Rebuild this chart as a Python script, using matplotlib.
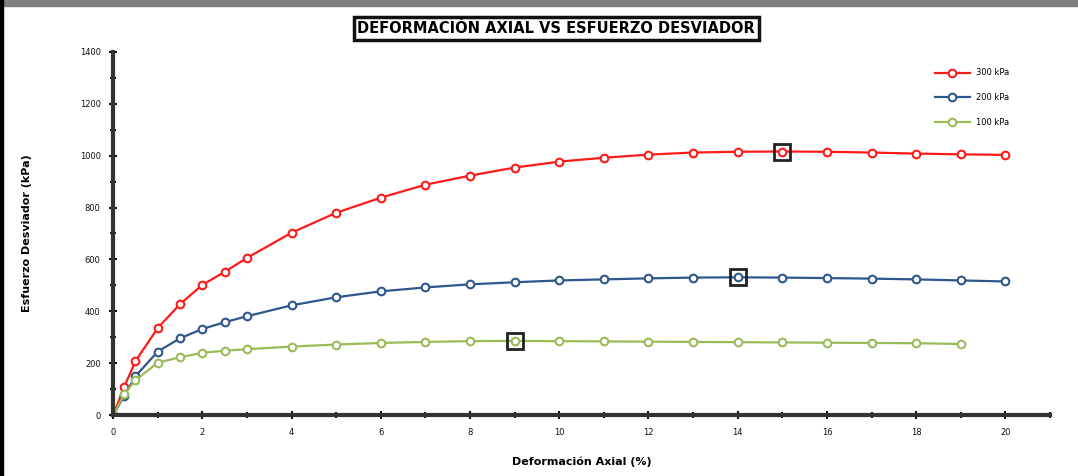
import numpy as np
import matplotlib.pyplot as plt
from matplotlib.ticker import MultipleLocator
from matplotlib.patches import Rectangle

# deformacion axial (%) y esfuerzo desviador (kPa) para cada presion de confinamiento
def_300 = [0, 0.25, 0.5, 1, 1.5, 2, 2.5, 3, 4, 5, 6, 7, 8, 9, 10, 11, 12, 13, 14, 15, 16, 17, 18, 19, 20]
esf_300 = [0, 110, 208, 336, 428, 502, 552, 606, 703, 780, 838, 888, 923, 954, 977, 992, 1004, 1012, 1015, 1016, 1015, 1012, 1008, 1005, 1003]

def_200 = [0, 0.25, 0.5, 1, 1.5, 2, 2.5, 3, 4, 5, 6, 7, 8, 9, 10, 11, 12, 13, 14, 15, 16, 17, 18, 19, 20]
esf_200 = [0, 75, 150, 245, 296, 332, 358, 381, 423, 454, 477, 492, 504, 512, 519, 523, 527, 530, 531, 530, 528, 526, 523, 519, 515]

def_100 = [0, 0.25, 0.5, 1, 1.5, 2, 2.5, 3, 4, 5, 6, 7, 8, 9, 10, 11, 12, 13, 14, 15, 16, 17, 18, 19]
esf_100 = [0, 80, 135, 202, 223, 240, 248, 254, 264, 272, 278, 282, 285, 286, 285, 284, 283, 282, 281, 280, 279, 278, 277, 274]

series = [
    ("300 kPa", def_300, esf_300, "#ff1a1a"),
    ("200 kPa", def_200, esf_200, "#2e578c"),
    ("100 kPa", def_100, esf_100, "#9bbb59"),
]

fig = plt.figure(figsize=(10.78, 4.76), dpi=100)
ax = fig.add_axes([0.105, 0.128, 0.869, 0.763])

for lab, x, y, c in series:
    ax.plot(x, y, color=c, lw=1.6, marker="o", ms=5.5, mfc="white", mec=c, mew=1.5, label=lab)
    # punto de esfuerzo maximo
    i = int(np.argmax(y))
    ax.plot(x[i], y[i], marker="s", ms=12, mfc="none", mec="#222222", mew=2, zorder=5)

ax.set_xlim(0, 21)
ax.set_ylim(0, 1400)
ax.xaxis.set_major_locator(MultipleLocator(2))
ax.xaxis.set_minor_locator(MultipleLocator(1))
ax.yaxis.set_major_locator(MultipleLocator(200))
ax.yaxis.set_minor_locator(MultipleLocator(100))
ax.tick_params(which="both", direction="inout", length=6, width=1.5, colors="#111111", labelsize=6)
ax.tick_params(which="minor", length=4)
ax.tick_params(axis="y", pad=6)
ax.tick_params(axis="x", pad=6)
ax.set_xticks(np.arange(0, 21, 2))

for s in ["top", "right"]:
    ax.spines[s].set_visible(False)
for s in ["left", "bottom"]:
    ax.spines[s].set_linewidth(3)
    ax.spines[s].set_color("#333333")

ax.set_xlabel("Deformación Axial (%)", fontsize=8, fontweight="bold", labelpad=14)
ax.set_ylabel("Esfuerzo Desviador (kPa)", fontsize=8, fontweight="bold", labelpad=34)

leg = ax.legend(loc="upper right", bbox_to_anchor=(0.965, 0.975), frameon=False, fontsize=6,
                handlelength=4.2, labelspacing=1.9)

# titulo en recuadro
fig.text(0.516, 0.94, "DEFORMACIÓN AXIAL VS ESFUERZO DESVIADOR", ha="center", va="center",
         fontsize=10.5, fontweight="bold",
         bbox=dict(boxstyle="square,pad=0.25", fc="white", ec="#111111", lw=2.5))

# marco de la ventana
fig.patches.append(Rectangle((0, 0.988), 1, 0.012, transform=fig.transFigure, color="#808080"))
fig.patches.append(Rectangle((0, 0), 0.003, 1, transform=fig.transFigure, color="black"))

fig.savefig("out.png", dpi=100)
